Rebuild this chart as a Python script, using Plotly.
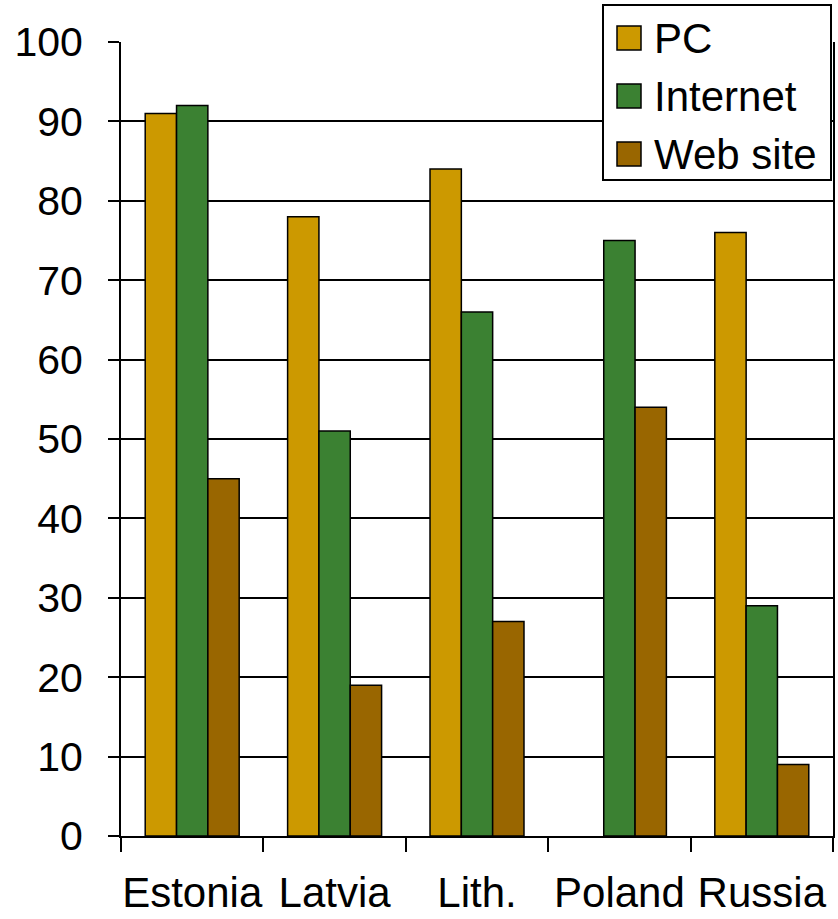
import plotly.graph_objects as go

# Share of organisations (%) with a PC, Internet access and a web site
countries = ["Estonia", "Latvia", "Lith.", "Poland", "Russia"]
series_names = ["PC", "Internet", "Web site"]
pc = [91, 78, 84, None, 76]
internet = [92, 51, 66, 75, 29]
web_site = [45, 19, 27, 54, 9]
y_ticks = [0, 10, 20, 30, 40, 50, 60, 70, 80, 90, 100]

colors = ["#CC9900", "#3B8132", "#996600"]
FONT = "Liberation Sans, Arial, sans-serif"

W, H = 838, 919
ML, MR, MT, MB = 121, 5, 42, 83
PW, PH = W - ML - MR, H - MT - MB

fig = go.Figure()
for name, vals, col in zip(series_names, [pc, internet, web_site], colors):
    fig.add_trace(go.Bar(
        x=countries, y=vals, name=name,
        marker=dict(color=col, line=dict(color="black", width=1.5)),
        showlegend=False,
    ))


def px_x(x):
    return (x - ML) / PW


def px_y(y):
    return (H - MB - y) / PH


# Legend box drawn as shapes over the top-right corner
shapes = [dict(type="rect", xref="paper", yref="paper",
               x0=px_x(603), x1=px_x(831), y0=px_y(180), y1=px_y(5),
               fillcolor="white", line=dict(color="black", width=2),
               layer="above")]
annotations = []
row_y = [38, 96, 154]
for name, col, cy in zip(series_names, colors, row_y):
    shapes.append(dict(type="rect", xref="paper", yref="paper",
                       x0=px_x(617), x1=px_x(641),
                       y0=px_y(cy + 12), y1=px_y(cy - 12),
                       fillcolor=col, line=dict(color="black", width=1.5),
                       layer="above"))
    annotations.append(dict(xref="paper", yref="paper", x=px_x(652), y=px_y(cy),
                            xanchor="left", yanchor="middle", text=name,
                            showarrow=False,
                            font=dict(family=FONT, size=42, color="black")))

fig.update_layout(
    width=W, height=H,
    margin=dict(l=ML, r=MR, t=MT, b=MB, autoexpand=False),
    paper_bgcolor="white", plot_bgcolor="white",
    barmode="group", bargap=0.34, bargroupgap=0,
    font=dict(family=FONT, size=40, color="black"),
    shapes=shapes, annotations=annotations,
    xaxis=dict(
        type="category", tickson="boundaries", tickangle=0, automargin=False,
        ticks="outside", ticklen=14, tickwidth=1.5, tickcolor="black",
        showline=True, linecolor="black", linewidth=2,
        showgrid=False, tickfont=dict(size=42),
        ticklabelstandoff=19,
    ),
    yaxis=dict(
        range=[0, 100], tickvals=y_ticks, automargin=False,
        ticks="outside", ticklen=11, tickwidth=1.5, tickcolor="black",
        showline=True, linecolor="black", linewidth=2, mirror=True,
        showgrid=True, gridcolor="black", gridwidth=1.8,
        zeroline=False, tickfont=dict(size=41),
        ticklabelstandoff=17,
    ),
)

fig.write_html("out.html")
